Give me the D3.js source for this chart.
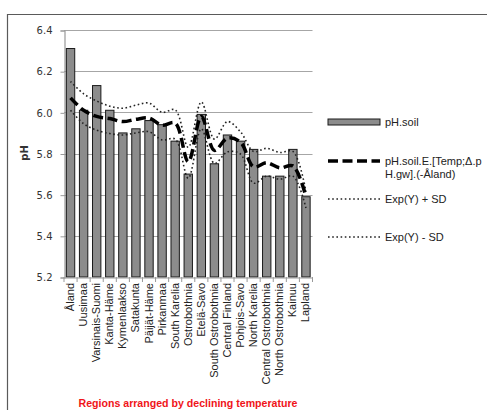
<!DOCTYPE html>
<html><head><meta charset="utf-8">
<script src="https://cdn.jsdelivr.net/npm/d3@7"></script>
<style>html,body{margin:0;padding:0;background:#fff;}svg{display:block;}</style>
</head><body>
<svg id="c" width="487" height="410"></svg>
<script>
const categories = ["Åland","Uusimaa","Varsinais-Suomi","Kanta-Häme","Kymenlaakso","Satakunta","Päijät-Häme","Pirkanmaa","South Karelia","Ostrobothnia","Etelä-Savo","South Ostrobothnia","Central Finland","Pohjois-Savo","North Karelia","Central Ostrobothnia","North Ostrobothnia","Kainuu","Lapland"];
const phSoil = [6.31,6.01,6.13,6.01,5.90,5.92,5.96,5.94,5.86,5.70,5.99,5.75,5.89,5.86,5.82,5.69,5.69,5.82,5.59];
const phExpected = [6.07,6.01,5.98,5.97,5.955,5.966,5.972,5.937,5.948,5.76,5.98,5.815,5.875,5.855,5.735,5.755,5.73,5.74,5.59];
const expPlusSD = [6.15,6.09,6.055,6.03,6.02,6.035,6.045,6.0,6.012,5.83,6.05,5.87,5.955,5.905,5.81,5.825,5.805,5.81,5.615];
const expMinusSD = [6.01,5.945,5.913,5.897,5.89,5.90,5.906,5.866,5.87,5.68,5.92,5.752,5.808,5.797,5.656,5.69,5.675,5.69,5.535];
const yTicks = [5.2,5.4,5.6,5.8,6.0,6.2,6.4];
const legendLabels = [["pH.soil"],["pH.soil.E.[Temp;Δ.p","H.gw].(-Åland)"],["Exp(Y) + SD"],["Exp(Y) - SD"]];
const yTitle = "pH";
const xTitle = "Regions arranged by declining temperature";

const svg = d3.select("#c");
// outer frame
svg.append("path").attr("d","M7.5,410 V14.5 H487").attr("fill","none").attr("stroke","#5a5a5a").attr("stroke-width",1.2);

const L = 64, R = 312.5, T = 30, B = 277;
const x = d3.scaleBand().domain(categories).range([L,R]).paddingInner(0.36).paddingOuter(0.18);
const y = d3.scaleLinear().domain([5.2,6.4]).range([B,T]);

// gridlines
svg.append("g").selectAll("line").data(yTicks.filter(t=>t>5.2)).join("line")
  .attr("x1",L).attr("x2",R).attr("y1",d=>Math.round(y(d))+0.5).attr("y2",d=>Math.round(y(d))+0.5)
  .attr("stroke","#a6a6a6").attr("stroke-width",1.2);

// y axis
const yAxis = d3.axisLeft(y).tickValues(yTicks).tickFormat(d3.format(".1f")).tickSize(4).tickPadding(8);
const gy = svg.append("g").attr("transform",`translate(${L+0.5},0.5)`).call(yAxis);
gy.select(".domain").attr("stroke","#999").attr("stroke-width",1.2);
gy.selectAll(".tick line").attr("stroke","#999");
gy.selectAll("text").attr("font-family","DejaVu Sans").attr("font-size",10).attr("fill","#333");

// bars
svg.append("g").selectAll("rect").data(categories).join("rect")
  .attr("x",d=>x(d)).attr("width",x.bandwidth())
  .attr("y",(d,i)=>y(phSoil[i])).attr("height",(d,i)=>B-y(phSoil[i]))
  .attr("fill","#8c8c8c").attr("stroke","#1a1a1a").attr("stroke-width",1);

// x axis
const xAxis = d3.axisBottom(x).tickSize(0).tickPadding(6);
const gx = svg.append("g").attr("transform",`translate(0,${B+0.5})`).call(xAxis);
gx.select(".domain").attr("stroke","#999").attr("stroke-width",1.2);
gx.selectAll("text").attr("font-family","Liberation Sans").attr("font-size",11).attr("fill","#222")
  .attr("text-anchor","end").attr("transform","rotate(-90)").attr("dx","-0.5em").attr("dy","0.32em").attr("x",0).attr("y",0)
  .each(function(d){ d3.select(this.parentNode).attr("transform",`translate(${x(d)+x.bandwidth()/2},0)`); });
// boundary ticks
const bounds = d3.range(categories.length+1).map(i=> L + i*(R-L)/categories.length);
svg.append("g").selectAll("line").data(bounds).join("line")
  .attr("x1",d=>d).attr("x2",d=>d).attr("y1",B).attr("y2",B+5).attr("stroke","#999");

// lines
const cx = d => x(d)+x.bandwidth()/2;
const lineGen = vals => d3.line().curve(d3.curveCatmullRom.alpha(0.5)).x((d,i)=>cx(categories[i])).y((d,i)=>y(vals[i]))(vals);
svg.append("path").attr("d",lineGen(expPlusSD)).attr("fill","none").attr("stroke","#222").attr("stroke-width",1.6).attr("stroke-dasharray","1.6,2.6");
svg.append("path").attr("d",lineGen(expMinusSD)).attr("fill","none").attr("stroke","#222").attr("stroke-width",1.6).attr("stroke-dasharray","1.6,2.6");
svg.append("path").attr("d",lineGen(phExpected)).attr("fill","none").attr("stroke","#000").attr("stroke-width",3.5).attr("stroke-dasharray","10,4.5");

// y title
svg.append("text").attr("transform","translate(28,153) rotate(-90)").attr("text-anchor","middle")
  .attr("font-family","DejaVu Sans").attr("font-size",10).attr("font-weight","bold").attr("fill","#333").text(yTitle);

// x title
svg.append("text").attr("x",188).attr("y",407).attr("text-anchor","middle")
  .attr("font-family","Liberation Sans").attr("font-size",10.6).attr("font-weight","bold").attr("fill","#f01419").text(xTitle);

// legend
const lg = svg.append("g");
const lx = 328, lx2 = 380, tx = 385;
lg.append("rect").attr("x",lx).attr("y",119).attr("width",lx2-lx).attr("height",6).attr("fill","#8c8c8c").attr("stroke","#1a1a1a");
lg.append("line").attr("x1",lx).attr("x2",lx2).attr("y1",161).attr("y2",161).attr("stroke","#000").attr("stroke-width",3.5).attr("stroke-dasharray","10,4.5");
lg.append("line").attr("x1",lx).attr("x2",lx2).attr("y1",199).attr("y2",199).attr("stroke","#222").attr("stroke-width",1.6).attr("stroke-dasharray","1.6,2.6");
lg.append("line").attr("x1",lx).attr("x2",lx2).attr("y1",237).attr("y2",237).attr("stroke","#222").attr("stroke-width",1.6).attr("stroke-dasharray","1.6,2.6");
const legY = [122.5,161,199,237];
legendLabels.forEach((lines,k)=>{
  lines.forEach((s,j)=>{
    lg.append("text").attr("x",tx).attr("y",legY[k]+j*13.5).attr("dy","0.35em")
      .attr("font-family","Liberation Sans").attr("font-size",11).attr("fill","#222").text(s);
  });
});
</script>
</body></html>
